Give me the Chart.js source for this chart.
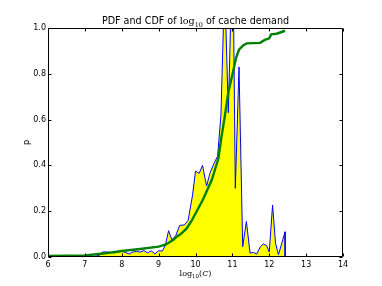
<!DOCTYPE html>
<html><head><meta charset="utf-8">
<script src="https://cdn.jsdelivr.net/npm/chart.js@4"></script>
<style>html,body{margin:0;padding:0;background:#fff}canvas{display:block}</style>
</head><body>
<canvas id="c" width="382" height="286"></canvas>
<script>
const pdfX = [6.0,6.5,7.0,7.3,7.4,7.48,7.6,7.7,7.8,7.9,8.0,8.1,8.2,8.3,8.4,8.5,8.6,8.7,8.8,8.9,9.0,9.1,9.18,9.27,9.36,9.47,9.57,9.7,9.8,9.92,10.0,10.1,10.19,10.3,10.4,10.52,10.6,10.69,10.79,10.89,11.01,11.08,11.18,11.28,11.38,11.48,11.57,11.66,11.76,11.84,11.93,12.0,12.09,12.17,12.25,12.34,12.43,12.43];
const pdfP = [0.003,0.003,0.003,0.004,0.008,0.022,0.022,0.02,0.018,0.022,0.025,0.02,0.013,0.022,0.024,0.022,0.028,0.018,0.027,0.013,0.027,0.026,0.05,0.115,0.075,0.095,0.138,0.14,0.16,0.27,0.375,0.365,0.4,0.31,0.37,0.415,0.44,0.62,1.2,0.63,1.39,0.3,0.83,0.045,0.155,0.017,0.02,0.013,0.045,0.057,0.05,0.022,0.227,0.06,0.01,0.06,0.11,0.0];
const cdfX = [6.0,7.0,7.5,8.0,8.5,9.0,9.2,9.4,9.5,9.6,9.76,9.9,10.0,10.2,10.44,10.62,10.7,10.8,10.89,11.02,11.1,11.18,11.3,11.39,11.75,11.88,12.0,12.05,12.2,12.43];
const cdfP = [0.005,0.007,0.015,0.026,0.035,0.045,0.055,0.075,0.09,0.1,0.125,0.16,0.19,0.25,0.336,0.43,0.52,0.62,0.72,0.81,0.87,0.905,0.925,0.933,0.935,0.948,0.955,0.972,0.975,0.988];
const xTicks = [6,7,8,9,10,11,12,13,14];
const yTicks = [0.0,0.2,0.4,0.6,0.8,1.0];

const pts = (xs, ys) => xs.map((x, i) => ({x: x, y: ys[i]}));

const framePlugin = {
  id: 'frame',
  afterDraw(chart) {
    const ctx = chart.ctx, a = chart.chartArea;
    const xs = chart.scales.x, ys = chart.scales.y;
    ctx.save();
    ctx.strokeStyle = '#000';
    ctx.lineWidth = 1;
    const L = Math.round(a.left) + 0.5, R = Math.round(a.right) - 0.5;
    const T = Math.round(a.top) + 0.5, B = Math.round(a.bottom) - 0.5;
    ctx.beginPath();
    ctx.rect(L, T, R - L, B - T);
    ctx.stroke();
    ctx.beginPath();
    xTicks.forEach(v => {
      const px = Math.round(xs.getPixelForValue(v)) + 0.5;
      ctx.moveTo(px, B); ctx.lineTo(px, B - 3);
      ctx.moveTo(px, T); ctx.lineTo(px, T + 3);
    });
    yTicks.forEach(v => {
      const py = Math.round(ys.getPixelForValue(v)) + 0.5;
      ctx.moveTo(L, py); ctx.lineTo(L + 3, py);
      ctx.moveTo(R, py); ctx.lineTo(R - 3, py);
    });
    ctx.stroke();

    // title
    ctx.fillStyle = '#000';
    ctx.textBaseline = 'alphabetic';
    const sans = '9.6px "DejaVu Sans"', serif = '9.6px "DejaVu Serif"', sub = '6.5px "DejaVu Serif"';
    const parts = [
      {t: 'PDF and CDF of ', f: sans, dy: 0},
      {t: 'log', f: serif, dy: 0},
      {t: '10', f: sub, dy: 2.5},
      {t: ' of cache demand', f: sans, dy: 0}
    ];
    let w = 0;
    parts.forEach(p => { ctx.font = p.f; p.w = ctx.measureText(p.t).width; w += p.w; });
    let x = (a.left + a.right) / 2 - w / 2;
    const ty = 24;
    parts.forEach(p => { ctx.font = p.f; ctx.fillText(p.t, x, ty + p.dy); x += p.w; });

    // x label
    const xparts = [
      {t: 'log', f: '8px "DejaVu Serif"', dy: 0},
      {t: '10', f: '5.5px "DejaVu Serif"', dy: 2},
      {t: '(', f: '8px "DejaVu Serif"', dy: 0},
      {t: 'C', f: 'italic 8px "DejaVu Serif"', dy: 0},
      {t: ')', f: '8px "DejaVu Serif"', dy: 0}
    ];
    w = 0;
    xparts.forEach(p => { ctx.font = p.f; p.w = ctx.measureText(p.t).width; w += p.w; });
    x = (a.left + a.right) / 2 - w / 2;
    xparts.forEach(p => { ctx.font = p.f; ctx.fillText(p.t, x, 276 + p.dy); x += p.w; });

    // y label
    ctx.save();
    ctx.translate(29, (a.top + a.bottom) / 2);
    ctx.rotate(-Math.PI / 2);
    ctx.font = '8px "DejaVu Sans"';
    ctx.textAlign = 'center';
    ctx.fillText('p', 0, 0);
    ctx.restore();
    ctx.restore();
  }
};

new Chart(document.getElementById('c'), {
  type: 'line',
  data: {
    datasets: [
      {
        label: 'CDF',
        data: pts(cdfX, cdfP),
        borderColor: '#008000',
        borderWidth: 2.4,
        pointRadius: 0,
        fill: false,
        tension: 0,
        order: 0
      },
      {
        label: 'PDF',
        data: pts(pdfX, pdfP),
        borderColor: '#0000ff',
        backgroundColor: '#ffff00',
        borderWidth: 1,
        pointRadius: 0,
        fill: 'origin',
        tension: 0,
        order: 1
      }
    ]
  },
  plugins: [framePlugin],
  options: {
    responsive: false,
    animation: false,
    devicePixelRatio: 1,
    layout: {padding: {top: 28, right: 39, left: 0, bottom: 0}},
    plugins: {legend: {display: false}, tooltip: {enabled: false}, title: {display: false}},
    scales: {
      x: {
        type: 'linear', min: 6, max: 14,
        afterFit(s) { s.height = 29; },
        afterBuildTicks(s) { s.ticks = xTicks.map(v => ({value: v})); },
        grid: {display: false, drawTicks: false},
        border: {display: false},
        ticks: {color: '#000', font: {family: 'DejaVu Sans', size: 8}, padding: 3, maxRotation: 0,
                callback: v => String(v)}
      },
      y: {
        type: 'linear', min: 0, max: 1,
        afterFit(s) { s.width = 48; },
        afterBuildTicks(s) { s.ticks = yTicks.map(v => ({value: v})); },
        grid: {display: false, drawTicks: false},
        border: {display: false},
        ticks: {color: '#000', font: {family: 'DejaVu Sans', size: 8}, padding: 2,
                callback: v => Number(v).toFixed(1)}
      }
    }
  }
});
</script>
</body></html>
